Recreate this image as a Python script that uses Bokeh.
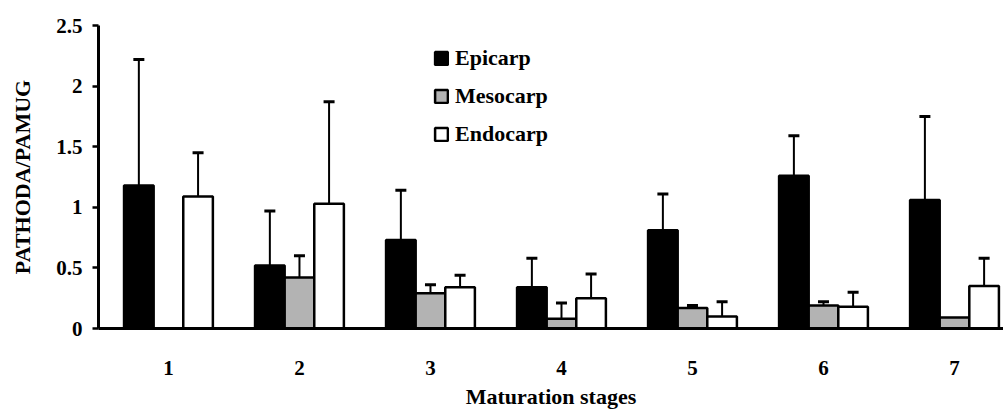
from bokeh.plotting import figure
from bokeh.models import ColumnDataSource, Whisker, TeeHead, FixedTicker, Legend, LegendItem, Range1d
from bokeh.embed import file_html
from bokeh.resources import INLINE

stages = ["1", "2", "3", "4", "5", "6", "7"]
series_names = ["Epicarp", "Mesocarp", "Endocarp"]
epicarp = [1.18, 0.52, 0.73, 0.34, 0.81, 1.26, 1.06]
epicarp_err = [1.04, 0.45, 0.41, 0.24, 0.30, 0.33, 0.69]
mesocarp = [None, 0.42, 0.29, 0.08, 0.17, 0.19, 0.09]
mesocarp_err = [None, 0.18, 0.07, 0.13, 0.02, 0.03, None]
endocarp = [1.09, 1.03, 0.34, 0.25, 0.10, 0.18, 0.35]
endocarp_err = [0.36, 0.84, 0.10, 0.20, 0.12, 0.12, 0.23]
y_ticks = [0, 0.5, 1, 1.5, 2, 2.5]
y_tick_labels = ["0", "0.5", "1", "1.5", "2", "2.5"]

FONT = "Liberation Serif"
BAR_W = 0.226
offsets = [-BAR_W, 0.0, BAR_W]
fills = ["#000000", "#b3b3b3", "#ffffff"]

p = figure(width=1003, height=413, output_backend="svg", toolbar_location=None,
           x_range=Range1d(0.466, 7.374), y_range=Range1d(0, 2.5),
           min_border_left=98, min_border_right=0, min_border_top=25, min_border_bottom=85)
p.outline_line_color = None
p.grid.visible = False

items = []
for name, vals, errs, off, fc in zip(series_names, [epicarp, mesocarp, endocarp],
                                      [epicarp_err, mesocarp_err, endocarp_err], offsets, fills):
    xs, tops = [], []
    ex, el, eu = [], [], []
    for i, (v, e) in enumerate(zip(vals, errs)):
        if v is None:
            continue
        x = i + 1 + off
        xs.append(x); tops.append(v)
        if e is not None:
            ex.append(x); el.append(v); eu.append(v + e)
    src = ColumnDataSource(dict(x=xs, top=tops))
    r = p.vbar(x="x", top="top", bottom=0, width=BAR_W, source=src,
               fill_color=fc, line_color="black", line_width=2.5)
    items.append(LegendItem(label=name, renderers=[r]))
    esrc = ColumnDataSource(dict(x=ex, lower=el, upper=eu))
    w = Whisker(base="x", lower="lower", upper="upper", source=esrc,
                line_width=2, line_color="black",
                upper_head=TeeHead(size=11, line_width=3, line_color="black"),
                lower_head=None)
    p.add_layout(w)

legend = Legend(items=items, location=(335, 181), background_fill_alpha=0,
                border_line_color=None, padding=0, margin=0, spacing=12,
                glyph_width=16, glyph_height=16, label_height=20, label_standoff=6,
                label_text_font=FONT, label_text_font_style="bold",
                label_text_font_size="22px", label_text_color="black")
p.add_layout(legend)

# x axis
p.xaxis.ticker = FixedTicker(ticks=list(range(1, len(stages) + 1)))
p.xaxis.major_label_overrides = {i + 1: s for i, s in enumerate(stages)}
p.xaxis.major_tick_line_color = None
p.xaxis.major_tick_out = 0
p.xaxis.major_tick_in = 0
p.xaxis.minor_tick_line_color = None
p.xaxis.axis_line_width = 3
p.xaxis.axis_line_color = "black"
p.xaxis.major_label_standoff = 32
p.xaxis.axis_label = "Maturation stages"
p.xaxis.axis_label_standoff = 6

# y axis
p.yaxis.ticker = FixedTicker(ticks=y_ticks)
p.yaxis.major_label_overrides = {t: l for t, l in zip(y_ticks, y_tick_labels)}
p.yaxis.major_tick_out = 6
p.yaxis.major_tick_in = 0
p.yaxis.major_tick_line_width = 2.5
p.yaxis.minor_tick_line_color = None
p.yaxis.axis_line_width = 3
p.yaxis.major_label_standoff = 10
p.yaxis.axis_label = "PATHODA/PAMUG"
p.yaxis.axis_label_standoff = 18

for ax in [p.xaxis, p.yaxis]:
    ax.major_label_text_font = FONT
    ax.major_label_text_font_style = "bold"
    ax.major_label_text_font_size = "21px"
    ax.major_label_text_color = "black"
    ax.axis_label_text_font = FONT
    ax.axis_label_text_font_style = "bold"
    ax.axis_label_text_font_size = "22px"
    ax.axis_label_text_color = "black"

open("out.html", "w").write(file_html(p, INLINE))
